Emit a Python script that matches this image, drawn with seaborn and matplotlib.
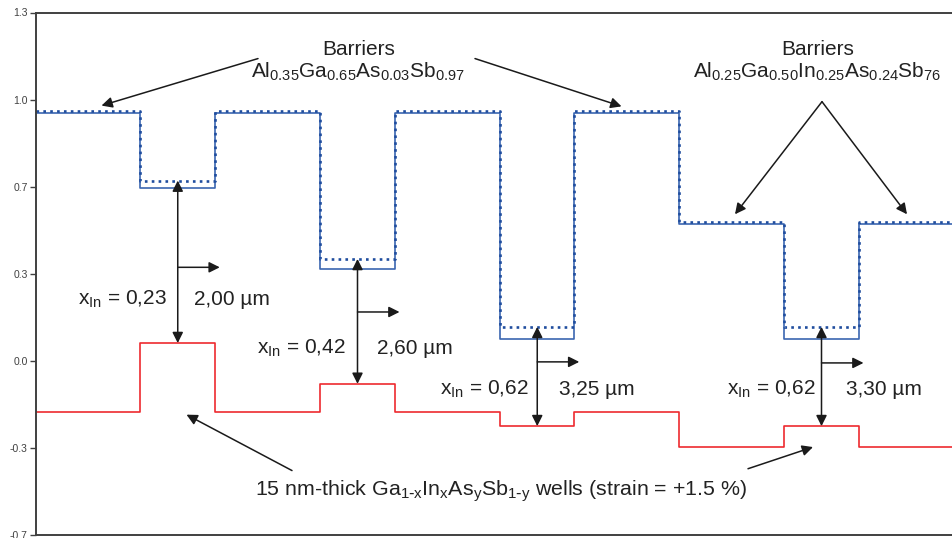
import numpy as np
import pandas as pd
import seaborn as sns
import matplotlib.pyplot as plt
from matplotlib.ticker import FormatStrFormatter

sns.set_theme(style="white")
plt.rcParams["font.family"] = ["Liberation Sans", "DejaVu Sans"]
plt.rcParams["mathtext.default"] = "regular"
plt.rcParams["axes.unicode_minus"] = False

# layer boundaries (nm) and band edges (eV) for each layer
edges = [0, 20.9, 35.8, 56.8, 71.8, 92.8, 107.7, 128.6, 149.6, 164.6, 183.4]
cb_unstrained = [0.95, 0.66, 0.95, 0.35, 0.95, 0.085, 0.95, 0.525, 0.085, 0.525]
cb_strained = [0.955, 0.69, 0.955, 0.39, 0.955, 0.13, 0.955, 0.532, 0.13, 0.532]
vb = [-0.195, 0.068, -0.195, -0.088, -0.195, -0.25, -0.195, -0.33, -0.25, -0.33]

x_in = ["0,23", "0,42", "0,62", "0,62"]
wavelengths = ["2,00 µm", "2,60 µm", "3,25 µm", "3,30 µm"]
well_idx = [1, 3, 5, 8]


def steps(values):
    xs, ys = [], []
    for i, v in enumerate(values):
        xs += [edges[i], edges[i + 1]]
        ys += [v, v]
    return pd.DataFrame({"x": xs, "y": ys})


fig = plt.figure(figsize=(9.53, 5.38), dpi=100)
ax = fig.add_axes([36 / 953, 3 / 538, 1 - 36 / 953, 522.5 / 538])

sns.lineplot(data=steps(cb_unstrained), x="x", y="y", sort=False, estimator=None,
             color="#3b66b0", lw=1.2, ax=ax)
sns.lineplot(data=steps(cb_strained), x="x", y="y", sort=False, estimator=None,
             color="#1f4d9e", lw=1.9, linestyle=(0, (1, 1.6)), ax=ax)
sns.lineplot(data=steps(vb), x="x", y="y", sort=False, estimator=None,
             color="#ee2a2f", lw=1.2, ax=ax)

ax.set_xlim(edges[0], edges[-1])
ax.set_ylim(-2 / 3, 4 / 3)
ax.set_yticks(np.linspace(-2 / 3, 4 / 3, 7))
ax.yaxis.set_major_formatter(FormatStrFormatter("%.1f"))
ax.set_xticks([])
ax.set_xlabel("")
ax.set_ylabel("")
ax.tick_params(axis="y", direction="out", length=4, width=1, color="#404040",
               labelsize=7.5, labelcolor="#404040", left=True, pad=2)
for s in ["left", "top", "bottom"]:
    ax.spines[s].set_color("#404040")
    ax.spines[s].set_linewidth(1.4)
ax.spines["right"].set_visible(False)

txt = dict(fontsize=15, color="#222222")
arr = dict(arrowstyle="-|>", color="#1a1a1a", lw=1.1, mutation_scale=16, shrinkA=0, shrinkB=0)
dbl = dict(arrowstyle="<|-|>", color="#1a1a1a", lw=1.1, mutation_scale=16, shrinkA=0, shrinkB=0)

# barrier labels
ax.text(64.6, 1.172, "Barriers", ha="center", va="baseline", **txt)
ax.text(64.4, 1.084, r"$Al_{0.35}Ga_{0.65}As_{0.03}Sb_{0.97}$", ha="center", va="baseline", **txt)
ax.annotate("", xy=(13.1, 0.977), xytext=(44.4, 1.157), arrowprops=arr)
ax.annotate("", xy=(117.1, 0.974), xytext=(87.8, 1.157), arrowprops=arr)

ax.text(156.4, 1.172, "Barriers", ha="center", va="baseline", **txt)
ax.text(156.3, 1.084, r"$Al_{0.25}Ga_{0.50}In_{0.25}As_{0.24}Sb_{76}$", ha="center", va="baseline", **txt)
ax.annotate("", xy=(139.8, 0.561), xytext=(157.2, 0.992), arrowprops=arr)
ax.annotate("", xy=(174.2, 0.561), xytext=(157.2, 0.992), arrowprops=arr)

# transitions in each well
harrow_y = [0.358, 0.187, -0.004, -0.008]
label_y = [0.213, 0.026, -0.130, -0.130]
xin_x = [17.2, 53.0, 89.6, 147.0]
wl_x = [39.2, 75.8, 112.2, 169.6]
for k, i in enumerate(well_idx):
    xc = (edges[i] + edges[i + 1]) / 2
    ax.annotate("", xy=(xc, cb_strained[i]), xytext=(xc, vb[i]), arrowprops=dbl)
    ax.annotate("", xy=(xc + 8.4, harrow_y[k]), xytext=(xc, harrow_y[k]), arrowprops=arr)
    ax.text(xin_x[k], label_y[k], r"$x_{In}$ = " + x_in[k], ha="center", va="baseline", **txt)
    ax.text(wl_x[k], label_y[k], wavelengths[k], ha="center", va="baseline", **txt)

# wells label
ax.text(93, -0.518,
        r"15 nm-thick Ga$_{1\text{-}x}$In$_x$As$_y$Sb$_{1\text{-}y}$ wells (strain = +1.5 %)",
        ha="center", va="baseline", fontsize=15.4, color="#222222")
ax.annotate("", xy=(30.1, -0.206), xytext=(51.2, -0.420), arrowprops=arr)
ax.annotate("", xy=(155.4, -0.330), xytext=(142.4, -0.413), arrowprops=arr)

fig.savefig("out.png", dpi=100)
